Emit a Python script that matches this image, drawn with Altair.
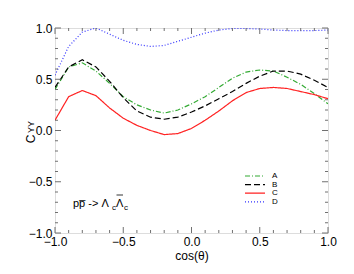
import altair as alt
import pandas as pd

cos_theta = [-1.0, -0.9, -0.8, -0.7, -0.6, -0.5, -0.4, -0.3, -0.2, -0.1, 0.0,
             0.1, 0.2, 0.3, 0.4, 0.5, 0.6, 0.7, 0.8, 0.9, 1.0]
series_A = [0.40, 0.62, 0.66, 0.58, 0.46, 0.33, 0.25, 0.20, 0.17, 0.20, 0.26,
            0.33, 0.42, 0.51, 0.57, 0.59, 0.58, 0.52, 0.45, 0.36, 0.26]
series_B = [0.42, 0.62, 0.69, 0.62, 0.48, 0.32, 0.19, 0.13, 0.11, 0.13, 0.18,
            0.24, 0.31, 0.38, 0.46, 0.53, 0.58, 0.58, 0.55, 0.49, 0.42]
series_C = [0.10, 0.33, 0.39, 0.34, 0.22, 0.12, 0.05, 0.00, -0.04, -0.03, 0.02,
            0.10, 0.19, 0.29, 0.37, 0.41, 0.42, 0.41, 0.38, 0.35, 0.31]
series_D = [0.54, 0.82, 0.96, 1.00, 0.94, 0.88, 0.84, 0.82, 0.83, 0.87, 0.91,
            0.95, 0.98, 0.995, 0.995, 0.99, 0.98, 0.975, 0.975, 0.975, 0.98]
series_names = ["A", "B", "C", "D"]
series_colors = ["#33aa33", "#000000", "#ff2222", "#3333ff"]
series_dashes = [[5, 2, 1, 2], [6, 3], [1, 0], [1, 2]]
major_ticks = [-1.0, -0.5, 0.0, 0.5, 1.0]
minor_ticks_x = [-0.9, -0.8, -0.7, -0.6, -0.4, -0.3, -0.2, -0.1,
                 0.1, 0.2, 0.3, 0.4, 0.6, 0.7, 0.8, 0.9]
minor_ticks_y = [-0.9, -0.8, -0.7, -0.6, -0.4, -0.3, -0.2, -0.1,
                 0.1, 0.2, 0.3, 0.4, 0.6, 0.7, 0.8, 0.9]

W, H = 273, 205
FONT = "Liberation Sans"
FRAME = "#707070"

rows = []
for name, vals in zip(series_names, [series_A, series_B, series_C, series_D]):
    for x, y in zip(cos_theta, vals):
        rows.append({"x": x, "y": y, "s": name})
df = pd.DataFrame(rows)

xscale = alt.Scale(domain=[-1, 1], nice=False, zero=False)
yscale = alt.Scale(domain=[-1, 1], nice=False, zero=False)

lines = alt.Chart(df).mark_line(strokeWidth=1.2, clip=True).encode(
    x=alt.X("x:Q", scale=xscale,
            axis=alt.Axis(values=major_ticks, format=".1f", tickSize=0, domain=False,
                          grid=False, labelFont=FONT, labelFontSize=12, labelColor="#000",
                          labelPadding=3, title="cos(θ)", titleFont=FONT,
                          titleFontSize=12, titleFontWeight="normal", titlePadding=3,
                          titleColor="#000", labelFlush=False)),
    y=alt.Y("y:Q", scale=yscale,
            axis=alt.Axis(values=major_ticks, format=".1f", tickSize=0, domain=False,
                          grid=False, labelFont=FONT, labelFontSize=12, labelColor="#000",
                          labelPadding=3, title=None, labelFlush=False)),
    color=alt.Color("s:N", scale=alt.Scale(domain=series_names, range=series_colors),
                    legend=None),
    strokeDash=alt.StrokeDash("s:N", scale=alt.Scale(domain=series_names, range=series_dashes),
                              legend=None),
)

maj = pd.DataFrame({"v": major_ticks})
minx = pd.DataFrame({"v": minor_ticks_x})
miny = pd.DataFrame({"v": minor_ticks_y})

def xticks(data, length):
    b = alt.Chart(data).mark_rule(color=FRAME, strokeWidth=1).encode(
        x=alt.X("v:Q", scale=xscale), y=alt.value(H), y2=alt.value(H - length))
    t = alt.Chart(data).mark_rule(color=FRAME, strokeWidth=1).encode(
        x=alt.X("v:Q", scale=xscale), y=alt.value(0), y2=alt.value(length))
    return b + t

def yticks(data, length):
    l = alt.Chart(data).mark_rule(color=FRAME, strokeWidth=1).encode(
        y=alt.Y("v:Q", scale=yscale), x=alt.value(0), x2=alt.value(length))
    r = alt.Chart(data).mark_rule(color=FRAME, strokeWidth=1).encode(
        y=alt.Y("v:Q", scale=yscale), x=alt.value(W), x2=alt.value(W - length))
    return l + r

ticks = xticks(maj, 6) + xticks(minx, 3) + yticks(maj, 6) + yticks(miny, 3)

def label(text, x, y, size=11, angle=0, align="left", baseline="alphabetic"):
    return alt.Chart(pd.DataFrame({"t": [text]})).mark_text(
        font=FONT, fontSize=size, angle=angle, align=align, baseline=baseline,
        color="#000").encode(text="t:N", x=alt.value(x), y=alt.value(y))

# legend (manual, compact rows)
legend_layers = []
for i, (name, col, dash) in enumerate(zip(series_names, series_colors, series_dashes)):
    yy = 148 + i * 8.6
    legend_layers.append(
        alt.Chart(pd.DataFrame({"s": [name]})).mark_rule(
            color=col, strokeDash=dash, strokeWidth=1.2).encode(
            x=alt.value(190), x2=alt.value(210), y=alt.value(yy)))
    legend_layers.append(label(name, 217, yy, size=8, baseline="middle"))

ytitle = (label("C", -20, 111, size=12, angle=270, align="center") +
          label("YY", -21, 99, size=9, angle=270, align="center"))

annot = (label("pp\u0305 -> \u039b", 18, 179, size=11) +
         label("c", 57, 182, size=8) +
         label("\u039b", 61, 179, size=11) +
         alt.Chart(pd.DataFrame({"t": ["bar"]})).mark_rule(color="#000", strokeWidth=0.8).encode(
             x=alt.value(61.5), x2=alt.value(68), y=alt.value(167)) +
         label("c", 69, 182, size=8))

chart = alt.layer(lines, ticks, *legend_layers, ytitle, annot).properties(
    width=W, height=H,
    autosize=alt.AutoSizeParams(type="none"),
    padding={"left": 47, "top": 20, "right": 18, "bottom": 33},
).configure_view(stroke=FRAME, strokeWidth=1).configure(background="white")

chart.save("out.html", embed_options={"renderer": "svg", "actions": False})
